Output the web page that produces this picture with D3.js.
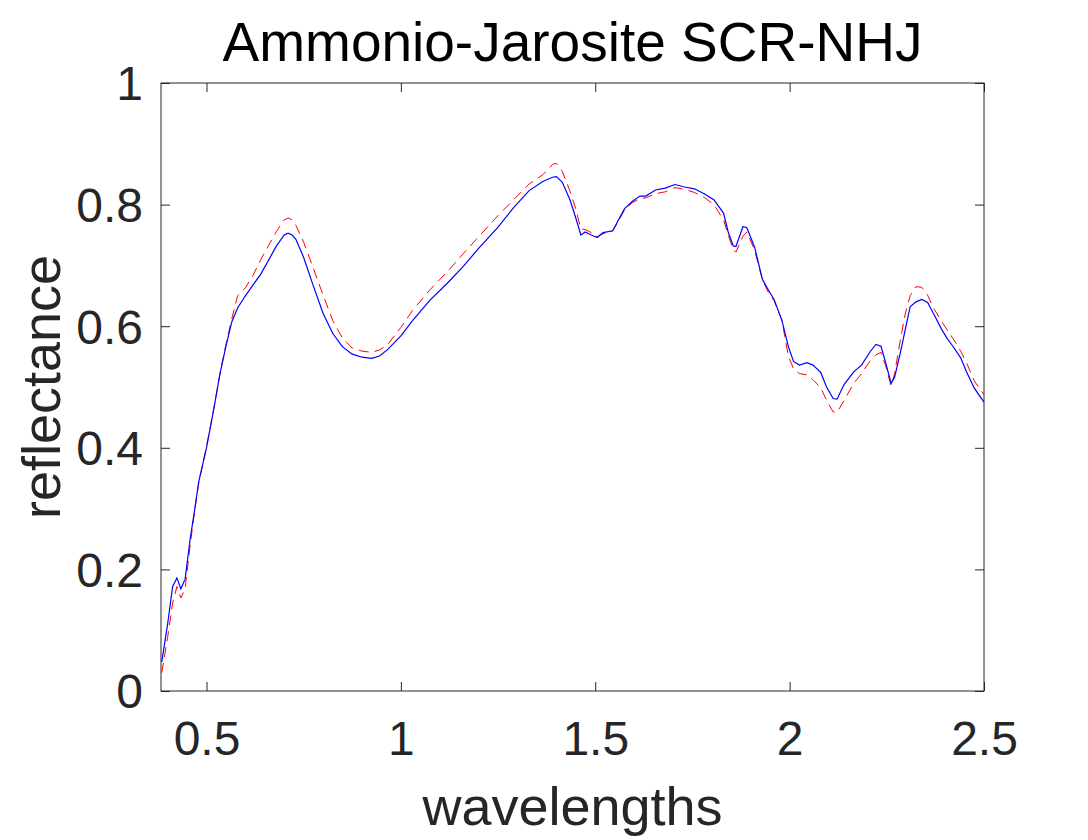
<!DOCTYPE html>
<html>
<head>
<meta charset="utf-8">
<script src="https://cdn.jsdelivr.net/npm/d3@7"></script>
<style>
  html, body { margin: 0; padding: 0; background: #fff; }
  svg { display: block; font-family: "Liberation Sans", Arial, sans-serif; }
</style>
</head>
<body>
<svg id="chart" width="1088" height="840"></svg>
<script>
// Data
const wavelengths = [0.385, 0.40, 0.413, 0.424, 0.434, 0.445, 0.458, 0.47, 0.48, 0.50, 0.52, 0.535, 0.55, 0.565, 0.58,
  0.60, 0.62, 0.64, 0.66, 0.68, 0.70, 0.71, 0.72, 0.73, 0.75, 0.775, 0.80, 0.825, 0.85, 0.875, 0.90, 0.925, 0.945, 0.965,
  1.00, 1.03, 1.075, 1.12, 1.16, 1.20, 1.25, 1.29, 1.33, 1.365, 1.39, 1.40, 1.415, 1.435, 1.45, 1.463, 1.474, 1.49,
  1.505, 1.52, 1.545, 1.56, 1.575, 1.595, 1.615, 1.63, 1.655, 1.68, 1.705, 1.73, 1.755, 1.78, 1.805, 1.83, 1.842,
  1.855, 1.862, 1.88, 1.89, 1.91, 1.93, 1.945, 1.96, 1.98, 1.997, 2.01, 2.025, 2.045, 2.06, 2.08, 2.095, 2.112, 2.122,
  2.14, 2.165, 2.185, 2.207, 2.222, 2.235, 2.247, 2.261, 2.27, 2.285, 2.298, 2.31, 2.325, 2.34, 2.355, 2.37, 2.39,
  2.405, 2.42, 2.44, 2.455, 2.475, 2.5];

const blueValues = [0.048, 0.11, 0.172, 0.186, 0.168, 0.184, 0.25, 0.30, 0.344, 0.40, 0.468, 0.523, 0.567, 0.607, 0.630,
  0.650, 0.668, 0.686, 0.709, 0.732, 0.750, 0.753, 0.750, 0.743, 0.713, 0.666, 0.621, 0.588, 0.566, 0.554, 0.549, 0.547, 0.551, 0.561,
  0.584, 0.609, 0.643, 0.671, 0.698, 0.728, 0.763, 0.795, 0.823, 0.838, 0.845, 0.846, 0.837, 0.808, 0.778, 0.750, 0.755, 0.750,
  0.746, 0.754, 0.757, 0.775, 0.793, 0.805, 0.814, 0.814, 0.824, 0.827, 0.833, 0.829, 0.826, 0.818, 0.808, 0.786, 0.755,
  0.732, 0.731, 0.764, 0.762, 0.730, 0.677, 0.660, 0.644, 0.610, 0.566, 0.542, 0.536, 0.540, 0.536, 0.524, 0.500, 0.481, 0.480,
  0.504, 0.525, 0.536, 0.558, 0.570, 0.567, 0.540, 0.506, 0.516, 0.557, 0.596, 0.632, 0.640, 0.644, 0.639, 0.621, 0.596,
  0.580, 0.567, 0.548, 0.525, 0.498, 0.475];

const redValues = [0.030, 0.088, 0.145, 0.172, 0.153, 0.168, 0.24, 0.298, 0.342, 0.402, 0.468, 0.523, 0.570, 0.612, 0.650,
  0.663, 0.684, 0.710, 0.733, 0.756, 0.775, 0.778, 0.775, 0.766, 0.738, 0.695, 0.651, 0.609, 0.580, 0.564, 0.559, 0.557, 0.561, 0.569,
  0.598, 0.626, 0.660, 0.690, 0.719, 0.747, 0.782, 0.808, 0.834, 0.849, 0.866, 0.868, 0.855, 0.822, 0.793, 0.760, 0.759, 0.754,
  0.747, 0.752, 0.757, 0.773, 0.791, 0.803, 0.810, 0.811, 0.818, 0.821, 0.828, 0.825, 0.820, 0.812, 0.800, 0.775, 0.750,
  0.726, 0.722, 0.748, 0.755, 0.725, 0.676, 0.656, 0.642, 0.610, 0.550, 0.530, 0.522, 0.520, 0.512, 0.499, 0.478, 0.459, 0.458,
  0.478, 0.506, 0.522, 0.543, 0.553, 0.557, 0.535, 0.502, 0.522, 0.578, 0.622, 0.650, 0.665, 0.664, 0.651, 0.630, 0.609,
  0.594, 0.580, 0.559, 0.540, 0.510, 0.487];

const xTicks = [0.5, 1, 1.5, 2, 2.5];
const yTicks = [0, 0.2, 0.4, 0.6, 0.8, 1];

const width = 1088, height = 840;
const margin = { top: 83, right: 104, bottom: 149, left: 161 };
const innerWidth = width - margin.left - margin.right;
const innerHeight = height - margin.top - margin.bottom;
const axisColor = "#262626";

const svg = d3.select("#chart");
const g = svg.append("g").attr("transform", `translate(${margin.left},${margin.top})`);

const x = d3.scaleLinear().domain([0.383, 2.5]).range([0, innerWidth]);
const y = d3.scaleLinear().domain([0, 1]).range([innerHeight, 0]);

// Axes with inward ticks, box style
const tickLen = 9;
const fmt = d => d3.format("~g")(d);

const xAxis = g.append("g")
  .attr("transform", `translate(0,${innerHeight})`)
  .call(d3.axisBottom(x).tickValues(xTicks).tickSize(-tickLen).tickPadding(30).tickFormat(fmt));
const yAxis = g.append("g")
  .call(d3.axisLeft(y).tickValues(yTicks).tickSize(-tickLen).tickPadding(18).tickFormat(fmt));
g.append("g")
  .call(d3.axisTop(x).tickValues(xTicks).tickSize(-tickLen).tickFormat(""));
g.append("g")
  .attr("transform", `translate(${innerWidth},0)`)
  .call(d3.axisRight(y).tickValues(yTicks).tickSize(-tickLen).tickFormat(""));

g.selectAll(".domain").remove();
g.selectAll(".tick line").attr("stroke", axisColor).attr("stroke-width", 1);
g.selectAll(".tick text")
  .attr("fill", axisColor)
  .style("font-size", "48px")
  .style("font-family", "'Liberation Sans', Arial, sans-serif");
xAxis.selectAll(".tick text").attr("dy", "0.71em");
yAxis.selectAll(".tick text").attr("dy", "0.35em");

g.append("rect")
  .attr("width", innerWidth)
  .attr("height", innerHeight)
  .attr("fill", "none")
  .attr("stroke", axisColor)
  .attr("stroke-width", 1);

// Lines
const line = d3.line()
  .x((d, i) => x(wavelengths[i]))
  .y(d => y(d));

g.append("path")
  .datum(redValues)
  .attr("fill", "none")
  .attr("stroke", "#ff0000")
  .attr("stroke-width", 1)
  .attr("stroke-dasharray", "10,6")
  .attr("d", line);

g.append("path")
  .datum(blueValues)
  .attr("fill", "none")
  .attr("stroke", "#0000ff")
  .attr("stroke-width", 1.2)
  .attr("d", line);

// Title and labels
svg.append("text")
  .attr("x", margin.left + innerWidth / 2)
  .attr("y", 61)
  .attr("text-anchor", "middle")
  .attr("fill", "#000")
  .style("font-size", "55px")
  .text("Ammonio-Jarosite SCR-NHJ");

svg.append("text")
  .attr("x", margin.left + innerWidth / 2)
  .attr("y", 825)
  .attr("text-anchor", "middle")
  .attr("fill", axisColor)
  .style("font-size", "54px")
  .text("wavelengths");

svg.append("text")
  .attr("transform", `translate(60,${margin.top + innerHeight / 2}) rotate(-90)`)
  .attr("text-anchor", "middle")
  .attr("fill", axisColor)
  .style("font-size", "54px")
  .text("reflectance");
</script>
</body>
</html>
